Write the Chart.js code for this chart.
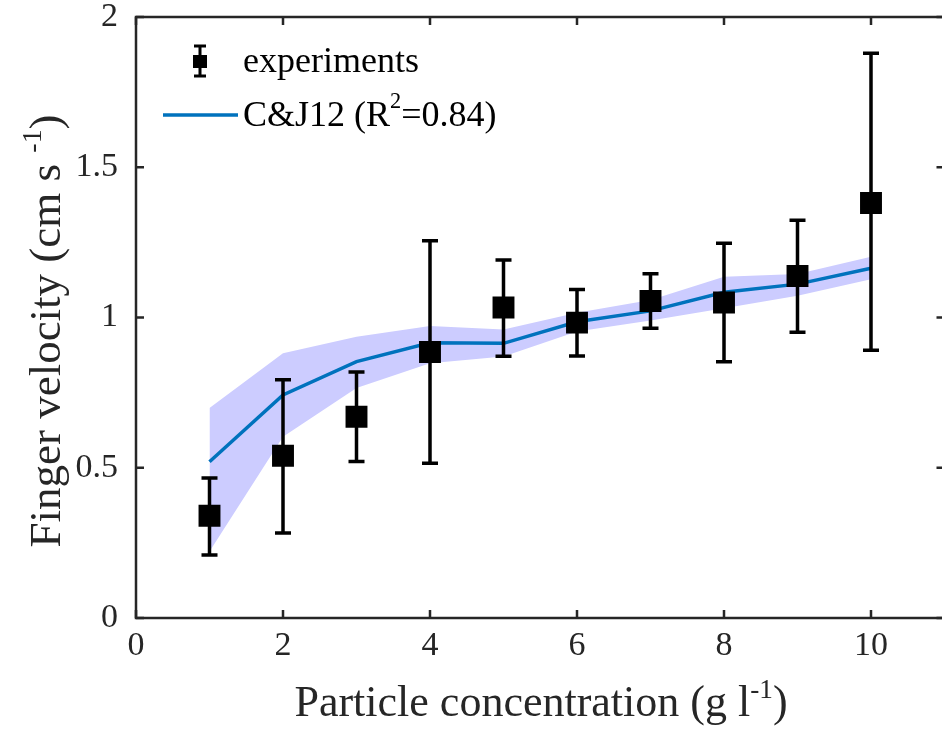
<!DOCTYPE html>
<html>
<head>
<meta charset="utf-8">
<title>Finger velocity</title>
<script src="https://cdn.jsdelivr.net/npm/chart.js@4/dist/chart.umd.min.js"></script>
<style>
  html, body { margin: 0; padding: 0; background: #fff; overflow: hidden; }
  #plot { display: block; }
</style>
</head>
<body>
<canvas id="plot" width="960" height="746"></canvas>
<script>
// particle concentration (g/l)
const concentration = [1, 2, 3, 4, 5, 6, 7, 8, 9, 10];
// measured finger velocity (cm/s) and error bar limits
const velocity = [0.34, 0.54, 0.67, 0.885, 1.033, 0.983, 1.055, 1.05, 1.138, 1.381];
const velLow   = [0.21, 0.283, 0.521, 0.515, 0.871, 0.872, 0.964, 0.853, 0.951, 0.891];
const velHigh  = [0.466, 0.793, 0.819, 1.255, 1.191, 1.093, 1.146, 1.247, 1.324, 1.879];
// C&J12 model and its spread
const model    = [0.52, 0.742, 0.853, 0.916, 0.914, 0.986, 1.022, 1.084, 1.111, 1.164];
const bandHigh = [0.699, 0.881, 0.936, 0.972, 0.96, 1.016, 1.058, 1.136, 1.145, 1.202];
const bandLow  = [0.221, 0.603, 0.765, 0.848, 0.87, 0.953, 0.99, 1.031, 1.072, 1.127];

const xTicks = [0, 2, 4, 6, 8, 10];
const yTicks = [0, 0.5, 1, 1.5, 2];

const FONT = "'Liberation Serif', 'Times New Roman', serif";
const AXIS = '#262626';

const pts = arr => concentration.map((c, i) => ({x: c, y: arr[i]}));

// draws text pieces, some of them raised as superscripts
function drawRich(ctx, parts, x, y, size, align) {
  const widths = parts.map(p => {
    ctx.font = (p.sup ? size * 0.62 : size) + 'px ' + FONT;
    return ctx.measureText(p.t).width;
  });
  const total = widths.reduce((a, b) => a + b, 0);
  let cx = align === 'center' ? x - total / 2 : x;
  parts.forEach((p, i) => {
    ctx.font = (p.sup ? size * 0.62 : size) + 'px ' + FONT;
    ctx.fillText(p.t, cx, p.sup ? y - size * 0.42 : y);
    cx += widths[i];
  });
}

const errorBars = {
  id: 'errorBars',
  beforeDatasetDraw(chart, args) {
    if (args.index !== 3) return;
    const {ctx, scales: {x, y}} = chart;
    ctx.save();
    ctx.strokeStyle = '#000';
    ctx.lineWidth = 3.5;
    concentration.forEach((c, i) => {
      const px = x.getPixelForValue(c);
      const top = y.getPixelForValue(velHigh[i]);
      const bot = y.getPixelForValue(velLow[i]);
      ctx.beginPath();
      ctx.moveTo(px, top); ctx.lineTo(px, bot);
      ctx.moveTo(px - 8, top); ctx.lineTo(px + 8, top);
      ctx.moveTo(px - 8, bot); ctx.lineTo(px + 8, bot);
      ctx.stroke();
    });
    ctx.restore();
  }
};

// box, inward ticks, axis titles and legend
const decorations = {
  id: 'decorations',
  afterDraw(chart) {
    const {ctx, chartArea: a, scales: {x, y}} = chart;
    ctx.save();
    ctx.strokeStyle = AXIS;
    ctx.lineWidth = 2.5;
    ctx.strokeRect(a.left, a.top, a.right - a.left, a.bottom - a.top);
    ctx.beginPath();
    xTicks.forEach(v => {
      const px = x.getPixelForValue(v);
      ctx.moveTo(px, a.bottom); ctx.lineTo(px, a.bottom - 8);
      ctx.moveTo(px, a.top); ctx.lineTo(px, a.top + 8);
    });
    yTicks.forEach(v => {
      const py = y.getPixelForValue(v);
      ctx.moveTo(a.left, py); ctx.lineTo(a.left + 8, py);
      ctx.moveTo(a.right, py); ctx.lineTo(a.right - 8, py);
    });
    ctx.stroke();

    ctx.fillStyle = AXIS;
    ctx.textBaseline = 'alphabetic';
    drawRich(ctx, [{t: 'Particle concentration (g l'}, {t: '-1', sup: true}, {t: ')'}],
      541, 716, 44, 'center');

    ctx.save();
    ctx.translate(60, 331);
    ctx.rotate(-Math.PI / 2);
    drawRich(ctx, [{t: 'Finger velocity (cm s '}, {t: '-1', sup: true}, {t: ')'}],
      0, 0, 45, 'center');
    ctx.restore();

    // legend
    const ds = chart.data.datasets;
    ctx.strokeStyle = '#000';
    ctx.lineWidth = 3;
    ctx.beginPath();
    ctx.moveTo(200, 46); ctx.lineTo(200, 76);
    ctx.moveTo(194, 46); ctx.lineTo(206, 46);
    ctx.moveTo(194, 76); ctx.lineTo(206, 76);
    ctx.stroke();
    ctx.fillStyle = '#000';
    ctx.fillRect(193, 55, 14, 13);
    ctx.strokeStyle = '#0072BD';
    ctx.lineWidth = 3.5;
    ctx.beginPath();
    ctx.moveTo(163, 115); ctx.lineTo(238, 115);
    ctx.stroke();

    ctx.fillStyle = '#000';
    ctx.textBaseline = 'middle';
    ctx.font = '36px ' + FONT;
    ctx.fillText(ds[3].label, 243, 63);
    drawRich(ctx, [{t: 'C&J12 (R'}, {t: '2', sup: true}, {t: '=0.84)'}], 243, 117, 36, 'left');
    ctx.restore();
  }
};

new Chart(document.getElementById('plot'), {
  type: 'line',
  data: {
    datasets: [
      {
        label: 'band low',
        data: pts(bandLow),
        borderWidth: 0,
        pointRadius: 0,
        fill: false,
        order: 4
      },
      {
        label: 'band high',
        data: pts(bandHigh),
        borderWidth: 0,
        pointRadius: 0,
        backgroundColor: 'rgb(204, 204, 255)',
        fill: '-1',
        order: 3
      },
      {
        label: 'C&J12 (R²=0.84)',
        data: pts(model),
        borderColor: '#0072BD',
        borderWidth: 3.5,
        pointRadius: 0,
        fill: false,
        order: 2
      },
      {
        label: 'experiments',
        data: pts(velocity),
        showLine: false,
        pointStyle: 'rect',
        pointRadius: 15.5,
        pointBorderWidth: 0,
        pointBackgroundColor: '#000',
        fill: false,
        order: 1
      }
    ]
  },
  options: {
    responsive: false,
    animation: false,
    devicePixelRatio: 1,
    layout: { padding: { top: 17, right: 13, left: 0, bottom: 0 } },
    plugins: { legend: { display: false }, tooltip: { enabled: false } },
    elements: { line: { tension: 0 } },
    scales: {
      x: {
        type: 'linear',
        min: 0,
        max: 11,
        afterBuildTicks: s => { s.ticks = xTicks.map(v => ({value: v})); },
        afterFit: s => { s.height = 128; },
        grid: { drawOnChartArea: false, drawTicks: false },
        border: { display: false },
        ticks: { color: AXIS, padding: 8, maxRotation: 0, callback: v => String(v),
                 font: { family: FONT, size: 34 } }
      },
      y: {
        min: 0,
        max: 2,
        afterBuildTicks: s => { s.ticks = yTicks.map(v => ({value: v})); },
        afterFit: s => { s.width = 136; s.paddingTop = 0; s.paddingBottom = 0; },
        grid: { drawOnChartArea: false, drawTicks: false },
        border: { display: false },
        ticks: { color: AXIS, padding: 18, callback: v => String(v),
                 font: { family: FONT, size: 34, lineHeight: 0.1 } }
      }
    }
  },
  plugins: [errorBars, decorations]
});
</script>
</body>
</html>
